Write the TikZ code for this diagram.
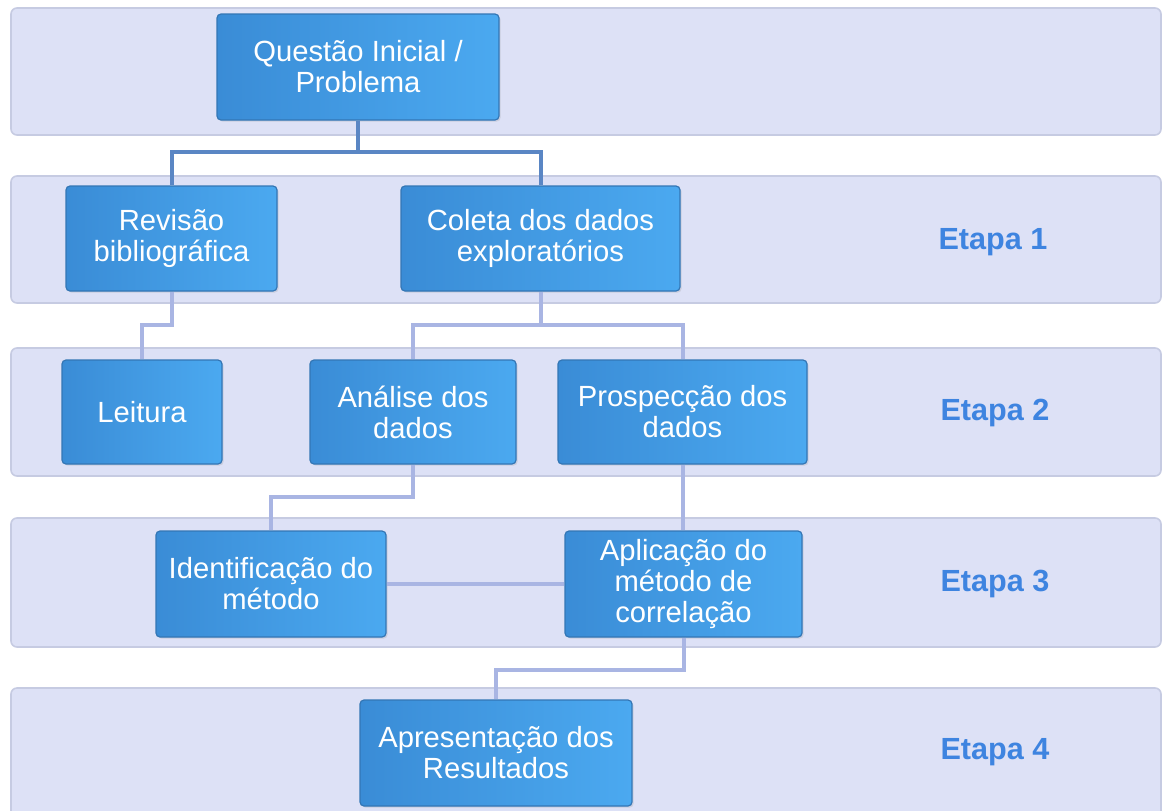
\documentclass[tikz,border=0pt]{standalone}
\usepackage{fontspec}
\setmainfont{Liberation Sans}
\usetikzlibrary{shadows}

\definecolor{bandfill}{HTML}{DDE1F6}
\definecolor{banddraw}{HTML}{C6CBE2}
\definecolor{boxleft}{HTML}{3A8CD6}
\definecolor{boxright}{HTML}{4BA9F0}
\definecolor{boxdraw}{HTML}{3376B5}
\definecolor{linkdark}{HTML}{5A86C4}
\definecolor{linklight}{HTML}{A9B5E3}
\definecolor{stagetext}{HTML}{3E84E0}

\begin{document}
\begin{tikzpicture}[x = 0.5pt, y = -0.5pt,
    band/.style  = {fill = bandfill, draw = banddraw, line width = 0.8pt, rounded corners = 3pt},
    task/.style  = {shade, left color = boxleft, right color = boxright, draw = boxdraw,
                    line width = 0.6pt, rounded corners = 2pt, text = white, align = center,
                    inner sep = 0pt, font = \fontsize{14.6}{15.5}\selectfont,
                    drop shadow = {opacity = 0.2, shadow xshift = 0.8pt, shadow yshift = -0.8pt}},
    stage/.style = {text = stagetext, font = \fontsize{15.3}{17}\selectfont\bfseries},
    top/.style   = {draw = linkdark, line width = 2pt},
    link/.style  = {draw = linklight, line width = 2pt}]

    \useasboundingbox (0, 0) rectangle (1162, 810);
    \clip (0, 0) rectangle (1162, 810);

    % bands
    \foreach \y/\h in {8/127, 176/127, 348/128, 518/129, 688/130}
        \path [band] (11, \y) rectangle ++(1150, \h);

    % tasks
    \node [task, minimum width = 141pt,   minimum height = 53pt]   (q)   at (358, 67)     {Questão Inicial /\\Problema};
    \node [task, minimum width = 105.5pt, minimum height = 52.5pt] (rev) at (171.5, 238.5) {Revisão\\bibliográfica};
    \node [task, minimum width = 139.5pt, minimum height = 52.5pt] (col) at (540.5, 238.5) {Coleta dos dados\\exploratórios};
    \node [task, minimum width = 80pt,    minimum height = 52pt]   (lei) at (142, 412)     {Leitura};
    \node [task, minimum width = 103pt,   minimum height = 52pt]   (ana) at (413, 412)     {Análise dos\\dados};
    \node [task, minimum width = 124.5pt, minimum height = 52pt]   (pro) at (682.5, 412)   {Prospecção dos\\dados};
    \node [task, minimum width = 115pt,   minimum height = 53pt]   (ide) at (271, 584)     {Identificação do\\método};
    \node [task, minimum width = 118.5pt, minimum height = 53pt]   (apl) at (683.5, 584)   {Aplicação do\\método de\\correlação};
    \node [task, minimum width = 136pt,   minimum height = 53pt]   (apr) at (496, 753)     {Apresentação dos\\Resultados};

    % stages
    \node [stage] (e1) at (993, 242) {Etapa 1};
    \node [stage] (e2) at (995, 413) {Etapa 2};
    \node [stage] (e3) at (995, 584) {Etapa 3};
    \node [stage] (e4) at (995, 752) {Etapa 4};

    % connectors
    \draw [top]  (q.south) -- (q.south |- 0, 152) -| (rev.north);
    \draw [top]  (q.south |- 0, 152) -| (col.north);
    \draw [link] (rev.south) -- (rev.south |- 0, 325) -| (lei.north);
    \draw [link] (col.south) -- (col.south |- 0, 325) -| (ana.north);
    \draw [link] (col.south |- 0, 325) -| (pro.north);
    \draw [link] (ana.south) -- (ana.south |- 0, 497) -| (ide.north);
    \draw [link] (pro.south) -- (pro.south |- apl.north);
    \draw [link] (ide.east) -- (apl.west);
    \draw [link] (apl.south) -- (apl.south |- 0, 670) -| (apr.north);

\end{tikzpicture}
\end{document}
